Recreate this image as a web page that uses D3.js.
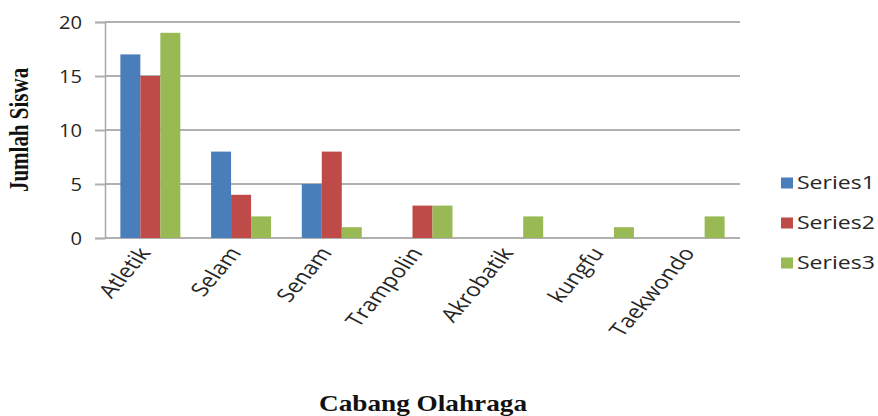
<!DOCTYPE html>
<html>
<head>
<meta charset="utf-8">
<script src="https://cdn.jsdelivr.net/npm/d3@7"></script>
<style>
html,body{margin:0;padding:0;background:#fff;}
svg{display:block;}
</style>
</head>
<body>
<svg id="chart" width="878" height="416"></svg>
<script>
const categories = ["Atletik","Selam","Senam","Trampolin","Akrobatik","kungfu","Taekwondo"];
const seriesNames = ["Series1","Series2","Series3"];
const series1 = [17,8,5,0,0,0,0];
const series2 = [15,4,8,3,0,0,0];
const series3 = [19,2,1,3,2,1,2];
const yTicks = [0,5,10,15,20];
const colors = ["#4a7ebb","#be4b48","#98b954"];
const xTitle = "Cabang Olahraga";
const yTitle = "Jumlah Siswa";

const seriesValues = [series1, series2, series3];
const svg = d3.select("#chart");
const plot = {left:105, right:740, top:22, bottom:238};
const stretch = 1.28;

const x0 = d3.scaleBand().domain(categories).range([plot.left, plot.right])
  .paddingInner(0.339).paddingOuter(0.1695);
const x1 = d3.scaleBand().domain(seriesNames).range([0, x0.bandwidth()]);
const y = d3.scaleLinear().domain([0,20]).range([plot.bottom, plot.top]);

// gridlines
svg.append("g").selectAll("line").data(yTicks).join("line")
  .attr("x1", plot.left).attr("x2", plot.right)
  .attr("y1", d=>y(d)).attr("y2", d=>y(d))
  .attr("stroke","#b0b0b0").attr("stroke-width",2);

// y axis
const yAxis = d3.axisLeft(y).tickValues(yTicks).tickSize(10).tickPadding(0).tickFormat(d3.format("d"));
const ya = svg.append("g").attr("transform",`translate(${plot.left},0)`).call(yAxis);
ya.select(".domain").attr("stroke","#a8a8a8").attr("stroke-width",1.5);
ya.selectAll(".tick line").attr("stroke","#b0b0b0").attr("stroke-width",2);
ya.selectAll(".tick text").remove();
ya.selectAll(".tick").append("text")
  .attr("transform", `translate(-23,0) scale(1.12,1)`)
  .attr("text-anchor","end").attr("dy","0.35em")
  .attr("font-family","Open Sans").attr("font-size",18).attr("fill","#262626")
  .text(d=>d);

// bars
const groups = svg.append("g").selectAll("g").data(categories).join("g")
  .attr("transform", d=>`translate(${x0(d)},0)`);
groups.selectAll("rect").data((c,i)=>seriesNames.map((s,j)=>({s, v:seriesValues[j][i], j})))
  .join("rect")
  .attr("x", d=>x1(d.s)).attr("width", x1.bandwidth())
  .attr("y", d=>y(d.v)).attr("height", d=>y(0)-y(d.v))
  .attr("fill", d=>colors[d.j]);

// x axis labels
const xa = svg.append("g");
xa.selectAll("text").data(categories).join("text")
  .attr("transform", d=>`translate(${x0(d)+x0.bandwidth()/2+1},${plot.bottom+15}) scale(${stretch},1) rotate(-56)`)
  .attr("text-anchor","end")
  .attr("font-family","Open Sans").attr("font-size",19).attr("fill","#262626")
  .text(d=>d);

// legend
const legY = [183, 223, 263];
const leg = svg.append("g").selectAll("g").data(seriesNames).join("g")
  .attr("transform",(d,i)=>`translate(781,${legY[i]})`);
leg.append("rect").attr("x",0).attr("y",-5.5).attr("width",12).attr("height",11)
  .attr("fill",(d,i)=>colors[i]);
leg.append("text").attr("transform",`translate(16,0) scale(${stretch},1)`)
  .attr("dy","0.36em").attr("font-family","Open Sans").attr("font-size",18).attr("fill","#262626")
  .text(d=>d);

// titles
svg.append("text").attr("x",423).attr("y",411).attr("text-anchor","middle")
  .attr("font-family","Liberation Serif").attr("font-weight","bold").attr("font-size",23)
  .attr("textLength",208).attr("lengthAdjust","spacingAndGlyphs").attr("fill","#111")
  .text(xTitle);
svg.append("text").attr("transform","translate(28,130) scale(1.3,1) rotate(-90)")
  .attr("text-anchor","middle")
  .attr("font-family","Liberation Serif").attr("font-weight","bold").attr("font-size",21)
  .attr("fill","#111")
  .text(yTitle);
</script>
</body>
</html>
